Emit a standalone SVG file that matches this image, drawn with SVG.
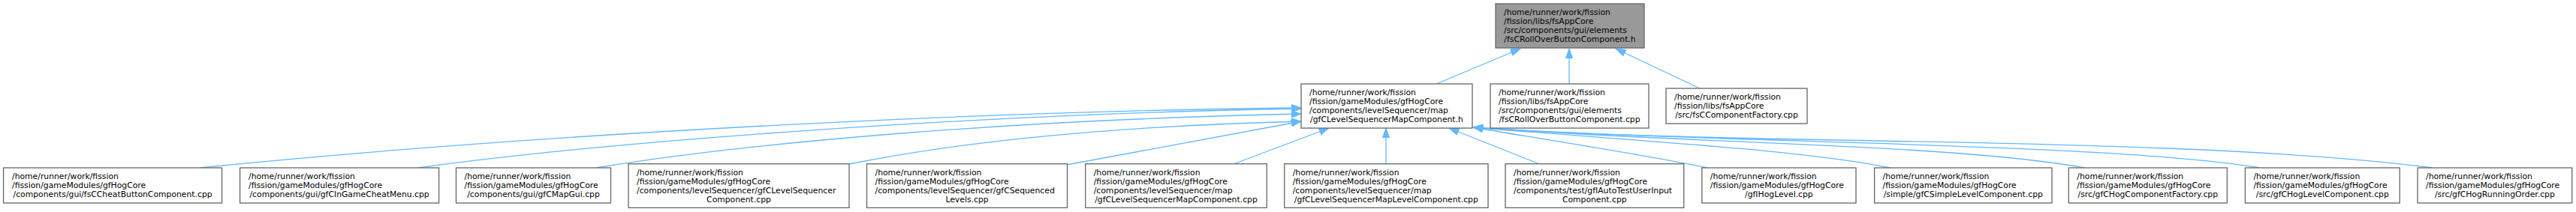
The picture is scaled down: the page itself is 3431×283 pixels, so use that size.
<svg xmlns="http://www.w3.org/2000/svg" width="3431" height="283" viewBox="0 0 3431 283">
<style>
.n rect{fill:#ffffff;stroke:#666666;stroke-width:1.3}
.root rect{fill:#999999;stroke:#666666;stroke-width:1.3}
text{font-family:"DejaVu Sans","Liberation Sans",sans-serif;font-size:10.8px;fill:#000000}
.c{text-anchor:middle}
#edges path{fill:none;stroke:#63b8ff;stroke-width:1.3;marker-end:url(#ah)}
</style>
<defs>
<marker id="ah" markerUnits="userSpaceOnUse" markerWidth="14" markerHeight="10" viewBox="0 0 14 10" refX="13.3" refY="4.7" orient="auto">
<path d="M0,0 L13.3,4.7 L0,9.4 Z" fill="#63b8ff" stroke="#63b8ff" stroke-width="1"/>
</marker>
</defs>
<rect width="3431" height="283" fill="#ffffff"/>
<g id="edges">
<path d="M1913,112 L2025,65"/>
<path d="M2090,112 L2090,65"/>
<path d="M2264,118 L2152,65"/>
<path d="M266,224 C700,180 1300,148 1733,144"/>
<path d="M557,224 C800,190 1300,152 1733,145"/>
<path d="M794,224 C1000,190 1350,160 1733,152"/>
<path d="M1131,219 C1300,185 1500,168 1733,162"/>
<path d="M1421,220 L1733,162"/>
<path d="M1643,219 L1770,171"/>
<path d="M1846,219 L1846,171"/>
<path d="M2048,218 L1930,171"/>
<path d="M2274,224 C2200,208 2050,185 1962,170"/>
<path d="M2517,224 C2400,200 2200,190 1962,170"/>
<path d="M2777,224 C2600,192 2250,192 1962,170"/>
<path d="M3010,224 C2800,190 2300,192 1962,170"/>
<path d="M3240,224 C2900,180 2300,195 1962,170"/>
</g>
<g id="top" class="root">
<rect x="1992" y="5" width="198" height="59"/>
<text><tspan x="2003" y="20.3">/home/runner/work/fission</tspan><tspan x="2003" y="32.3">/fission/libs/fsAppCore</tspan><tspan x="2003" y="44.3">/src/components/gui/elements</tspan><tspan class="c" x="2091" y="56.3">/fsCRollOverButtonComponent.h</tspan></text>
</g>
<g id="mapcomp" class="n">
<rect x="1733" y="112" width="228" height="59"/>
<text><tspan x="1744" y="127.3">/home/runner/work/fission</tspan><tspan x="1744" y="139.3">/fission/gameModules/gfHogCore</tspan><tspan x="1744" y="151.3">/components/levelSequencer/map</tspan><tspan class="c" x="1847" y="163.3">/gfCLevelSequencerMapComponent.h</tspan></text>
</g>
<g id="rollover" class="n">
<rect x="1985" y="112" width="211" height="59"/>
<text><tspan x="1996" y="127.3">/home/runner/work/fission</tspan><tspan x="1996" y="139.3">/fission/libs/fsAppCore</tspan><tspan x="1996" y="151.3">/src/components/gui/elements</tspan><tspan class="c" x="2090.5" y="163.3">/fsCRollOverButtonComponent.cpp</tspan></text>
</g>
<g id="compfactory" class="n">
<rect x="2219" y="118" width="188" height="47"/>
<text><tspan x="2230" y="133.3">/home/runner/work/fission</tspan><tspan x="2230" y="145.3">/fission/libs/fsAppCore</tspan><tspan class="c" x="2313" y="157.3">/src/fsCComponentFactory.cpp</tspan></text>
</g>
<g id="b1" class="n">
<rect x="4.6" y="224" width="291" height="47"/>
<text><tspan x="16" y="239.3">/home/runner/work/fission</tspan><tspan x="16" y="251.3">/fission/gameModules/gfHogCore</tspan><tspan class="c" x="150.1" y="263.3">/components/gui/fsCCheatButtonComponent.cpp</tspan></text>
</g>
<g id="b2" class="n">
<rect x="319.6" y="224" width="265" height="47"/>
<text><tspan x="331" y="239.3">/home/runner/work/fission</tspan><tspan x="331" y="251.3">/fission/gameModules/gfHogCore</tspan><tspan class="c" x="452.1" y="263.3">/components/gui/gfCInGameCheatMenu.cpp</tspan></text>
</g>
<g id="b3" class="n">
<rect x="607.5" y="224" width="206" height="47"/>
<text><tspan x="618.5" y="239.3">/home/runner/work/fission</tspan><tspan x="618.5" y="251.3">/fission/gameModules/gfHogCore</tspan><tspan class="c" x="710.5" y="263.3">/components/gui/gfCMapGui.cpp</tspan></text>
</g>
<g id="b4" class="n">
<rect x="837" y="218.7" width="294" height="58.6"/>
<text><tspan x="848" y="234">/home/runner/work/fission</tspan><tspan x="848" y="246">/fission/gameModules/gfHogCore</tspan><tspan x="848" y="258">/components/levelSequencer/gfCLevelSequencer</tspan><tspan class="c" x="984" y="270">Component.cpp</tspan></text>
</g>
<g id="b5" class="n">
<rect x="1154.5" y="218.7" width="267" height="58.6"/>
<text><tspan x="1165.5" y="234">/home/runner/work/fission</tspan><tspan x="1165.5" y="246">/fission/gameModules/gfHogCore</tspan><tspan x="1165.5" y="258">/components/levelSequencer/gfCSequenced</tspan><tspan class="c" x="1288" y="270">Levels.cpp</tspan></text>
</g>
<g id="b6" class="n">
<rect x="1445.7" y="218.7" width="241.5" height="58.6"/>
<text><tspan x="1456.7" y="234">/home/runner/work/fission</tspan><tspan x="1456.7" y="246">/fission/gameModules/gfHogCore</tspan><tspan x="1456.7" y="258">/components/levelSequencer/map</tspan><tspan class="c" x="1566.5" y="270">/gfCLevelSequencerMapComponent.cpp</tspan></text>
</g>
<g id="b7" class="n">
<rect x="1710.7" y="218.7" width="271.3" height="58.6"/>
<text><tspan x="1721.7" y="234">/home/runner/work/fission</tspan><tspan x="1721.7" y="246">/fission/gameModules/gfHogCore</tspan><tspan x="1721.7" y="258">/components/levelSequencer/map</tspan><tspan class="c" x="1846.3" y="270">/gfCLevelSequencerMapLevelComponent.cpp</tspan></text>
</g>
<g id="b8" class="n">
<rect x="2005" y="218.7" width="237.7" height="58.6"/>
<text><tspan x="2016" y="234">/home/runner/work/fission</tspan><tspan x="2016" y="246">/fission/gameModules/gfHogCore</tspan><tspan x="2016" y="258">/components/test/gfIAutoTestUserInput</tspan><tspan class="c" x="2123.8" y="270">Component.cpp</tspan></text>
</g>
<g id="b9" class="n">
<rect x="2266.8" y="224" width="205.2" height="47"/>
<text><tspan x="2277.8" y="239.3">/home/runner/work/fission</tspan><tspan x="2277.8" y="251.3">/fission/gameModules/gfHogCore</tspan><tspan class="c" x="2369.4" y="263.3">/gfIHogLevel.cpp</tspan></text>
</g>
<g id="b10" class="n">
<rect x="2496.6" y="224" width="236.4" height="47"/>
<text><tspan x="2507.6" y="239.3">/home/runner/work/fission</tspan><tspan x="2507.6" y="251.3">/fission/gameModules/gfHogCore</tspan><tspan class="c" x="2614.8" y="263.3">/simple/gfCSimpleLevelComponent.cpp</tspan></text>
</g>
<g id="b11" class="n">
<rect x="2755.3" y="224" width="211" height="47"/>
<text><tspan x="2766.3" y="239.3">/home/runner/work/fission</tspan><tspan x="2766.3" y="251.3">/fission/gameModules/gfHogCore</tspan><tspan class="c" x="2860.8" y="263.3">/src/gfCHogComponentFactory.cpp</tspan></text>
</g>
<g id="b12" class="n">
<rect x="2990.4" y="224" width="205.8" height="47"/>
<text><tspan x="3001.4" y="239.3">/home/runner/work/fission</tspan><tspan x="3001.4" y="251.3">/fission/gameModules/gfHogCore</tspan><tspan class="c" x="3093.3" y="263.3">/src/gfCHogLevelComponent.cpp</tspan></text>
</g>
<g id="b13" class="n">
<rect x="3220" y="224" width="205.7" height="47"/>
<text><tspan x="3231" y="239.3">/home/runner/work/fission</tspan><tspan x="3231" y="251.3">/fission/gameModules/gfHogCore</tspan><tspan class="c" x="3322.9" y="263.3">/src/gfCHogRunningOrder.cpp</tspan></text>
</g>
</svg>
